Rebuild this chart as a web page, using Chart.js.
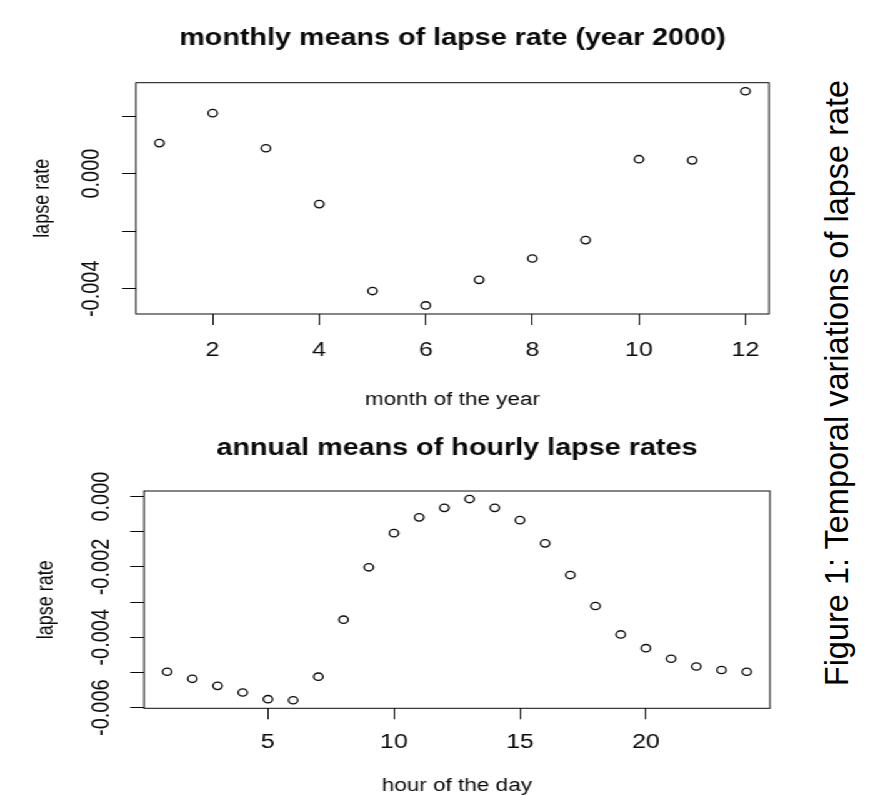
<!DOCTYPE html>
<html>
<head>
<meta charset="utf-8">
<script src="https://cdn.jsdelivr.net/npm/chart.js@4.4.0/dist/chart.umd.min.js"></script>
<style>
html, body { margin: 0; padding: 0; background: #fff; overflow: hidden; }
/* the reference figure is stretched sideways, so the two plots are too */
#stretch { position: absolute; left: 0; top: 0; width: 640px; height: 820px; transform: scaleX(1.25); transform-origin: 0 0; }
#monthchart { position: absolute; left: 0; top: 0; }
#hourchart { position: absolute; left: 0; top: 420px; }
#caption {
    position: absolute; left: 836.5px; top: 383px;
    width: 680px; height: 32px; margin-left: -340px; margin-top: -16px;
    transform: rotate(-90deg);
    font: 32.5px "Liberation Sans", Arial, sans-serif; line-height: 32px;
    text-align: center; white-space: nowrap; color: #000;
}
</style>
</head>
<body>
<div id="stretch">
    <canvas id="monthchart" width="640" height="420"></canvas>
    <canvas id="hourchart" width="640" height="400"></canvas>
</div>
<div id="caption">Figure 1: Temporal variations of lapse rate</div>
<script>
// monthly means (year 2000)
var months = [1, 2, 3, 4, 5, 6, 7, 8, 9, 10, 11, 12]
var monthlyLapse = [0.00106, 0.00210, 0.00088, -0.00106, -0.00408, -0.00458, -0.00369, -0.00295, -0.00231, 0.00050, 0.00046, 0.00286]
var monthTicks = [2, 4, 6, 8, 10, 12]
var monthlyYTicks = [-0.004, -0.002, 0, 0.002]
var monthlyYLabels = [-0.004, 0]

// annual means per hour
var hours = [1, 2, 3, 4, 5, 6, 7, 8, 9, 10, 11, 12, 13, 14, 15, 16, 17, 18, 19, 20, 21, 22, 23, 24]
var hourlyLapse = [-0.00498, -0.00518, -0.00538, -0.00557, -0.00576, -0.00579, -0.00512, -0.00350, -0.00201, -0.00104, -0.00059, -0.00032,
                   -0.00007, -0.00032, -0.00067, -0.00133, -0.00223, -0.00311, -0.00392, -0.00431, -0.00461, -0.00483, -0.00493, -0.00498]
var hourTicks = [5, 10, 15, 20]
var hourlyYTicks = [-0.006, -0.005, -0.004, -0.003, -0.002, -0.001, 0]
var hourlyYLabels = [-0.006, -0.004, -0.002, 0]

const FONT = '"Liberation Sans", Arial, sans-serif'
const INK = '#0a0a0a'

// R pads the data range by 4% on each side
const rRange = (arr) => {
    var lo = Math.min(...arr), hi = Math.max(...arr), d = (hi - lo) * 0.04
    return [lo - d, hi + d]
}

const hasValue = (list, v) => list.some(l => Math.abs(l - v) < 1e-9)

const framePlugin = {
    id: 'rframe',
    afterDatasetsDraw(chart, args, opts) {
        var ca = chart.chartArea, ctx = chart.ctx
        ctx.save()
        ctx.strokeStyle = INK
        ctx.lineWidth = 1
        ctx.strokeRect(ca.left, ca.top, ca.right - ca.left, ca.bottom - ca.top)
        ctx.fillStyle = INK
        ctx.font = 'bold 23px ' + FONT
        ctx.textAlign = 'center'
        ctx.textBaseline = 'alphabetic'
        ctx.fillText(opts.text, (ca.left + ca.right) / 2, opts.y)
        ctx.restore()
    }
}

const makePlot = (id, p) => {
    var xr = rRange(p.xs), yr = rRange(p.ys)
    return new Chart($(id), {
        type: 'scatter',
        data: {
            datasets: [{
                data: p.xs.map((x, i) => ({ x: x, y: p.ys[i] })),
                pointRadius: 3.7,
                pointBorderWidth: 1.3,
                borderColor: INK,
                backgroundColor: 'rgba(0,0,0,0)',
                showLine: false
            }]
        },
        options: {
            responsive: false,
            animation: false,
            devicePixelRatio: 1,
            layout: { padding: p.padding },
            plugins: {
                legend: { display: false },
                tooltip: { enabled: false },
                rframe: { text: p.title, y: p.titleY }
            },
            scales: {
                x: {
                    type: 'linear', position: 'bottom', bounds: 'data',
                    min: xr[0], max: xr[1],
                    afterBuildTicks: s => { s.ticks = p.xTicks.map(v => ({ value: v })) },
                    afterFit: s => { s.height = p.xHeight },
                    grid: { drawOnChartArea: false, drawTicks: true, tickLength: 11, color: INK },
                    border: { display: false },
                    ticks: {
                        autoSkip: false, maxRotation: 0, padding: p.xTickPad, color: INK,
                        font: { family: FONT, size: 20 },
                        callback: v => String(v)
                    },
                    title: { display: true, text: p.xTitle, color: INK, font: { family: FONT, size: 18 }, padding: { top: 3.2, bottom: 3.2 } }
                },
                y: {
                    type: 'linear', position: 'left', bounds: 'data',
                    min: yr[0], max: yr[1],
                    afterBuildTicks: s => { s.ticks = p.yTicks.map(v => ({ value: v })) },
                    afterFit: s => { s.width = p.yWidth },
                    grid: { drawOnChartArea: false, drawTicks: true, tickLength: 11, color: INK },
                    border: { display: false },
                    ticks: {
                        autoSkip: false, minRotation: 90, maxRotation: 90, crossAlign: 'center',
                        padding: p.yTickPad, color: INK,
                        font: { family: FONT, size: 20 },
                        callback: v => hasValue(p.yLabels, v) ? v.toFixed(3) : ''
                    },
                    title: { display: true, text: 'lapse rate', color: INK, font: { family: FONT, size: 18 }, padding: { top: p.yTitlePad, bottom: 0 } }
                }
            }
        },
        plugins: [framePlugin]
    })
}

function $(id) { return document.getElementById(id.replace('#', '')) }

var chartMonth = makePlot('#monthchart', {
    xs: months, ys: monthlyLapse,
    xTicks: monthTicks, yTicks: monthlyYTicks, yLabels: monthlyYLabels,
    title: 'monthly means of lapse rate (year 2000)', titleY: 45,
    xTitle: 'month of the year',
    padding: { left: 0, right: 24.8, top: 82.7, bottom: 6 },
    xHeight: 100, yWidth: 108.8, xTickPad: 13.4, yTickPad: -4.5, yTitlePad: 23
})

var chartHour = makePlot('#hourchart', {
    xs: hours, ys: hourlyLapse,
    xTicks: hourTicks, yTicks: hourlyYTicks, yLabels: hourlyYLabels,
    title: 'annual means of hourly lapse rates', titleY: 35,
    xTitle: 'hour of the day',
    padding: { left: 0, right: 24, top: 71, bottom: 20 },
    xHeight: 91.7, yWidth: 115.2, xTickPad: 11.4, yTickPad: -5.5, yTitlePad: 26.5
})
</script>
</body>
</html>
